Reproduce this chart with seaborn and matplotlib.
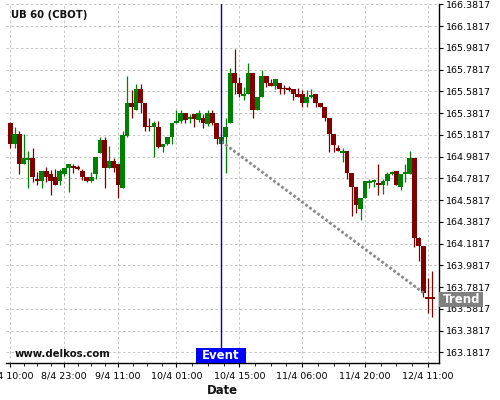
import numpy as np
import pandas as pd
import matplotlib
matplotlib.use("Agg")
import matplotlib.pyplot as plt
import matplotlib.transforms as mtransforms
from matplotlib.patches import Rectangle
from matplotlib.ticker import FixedLocator
import seaborn as sns

sns.set_theme(style="white")
plt.rcParams['font.family'] = ['DejaVu Sans']

# ---------------- data ----------------
opens = [165.29, 165.10, 165.19, 164.91, 164.95, 164.97, 164.77, 164.76, 164.85, 164.82,
         164.79, 164.76, 164.82, 164.88, 164.885, 164.88, 164.85, 164.79, 164.76, 164.82,
         165.01, 165.13, 164.88, 164.94, 164.91, 164.69, 165.17, 165.47, 165.41, 165.60,
         165.47, 165.26, 165.25, 165.25, 165.07, 165.10, 165.16, 165.29, 165.31, 165.38,
         165.33, 165.37, 165.32, 165.34, 165.28, 165.38, 165.29, 165.10, 165.16, 165.29,
         165.75, 165.66, 165.54, 165.56, 165.75, 165.41, 165.53, 165.72, 165.66, 165.63,
         165.66, 165.61, 165.605, 165.60, 165.56, 165.56, 165.47, 165.53, 165.56, 165.47,
         165.44, 165.34, 165.19, 165.06, 165.01, 165.03, 164.83, 164.70, 164.50, 164.60,
         164.74, 164.75, 164.73, 164.72, 164.76, 164.82, 164.85, 164.70, 164.82, 164.82,
         164.97, 164.23, 164.16, 163.69, 163.69]
closes = [165.10, 165.19, 164.91, 164.97, 164.97, 164.79, 164.76, 164.85, 164.79, 164.76,
          164.72, 164.85, 164.88, 164.91, 164.875, 164.87, 164.79, 164.76, 164.79, 164.98,
          165.13, 164.88, 164.94, 164.88, 164.72, 165.18, 165.47, 165.44, 165.60, 165.47,
          165.25, 165.25, 165.29, 165.07, 165.10, 165.16, 165.29, 165.31, 165.38, 165.32,
          165.34, 165.33, 165.38, 165.29, 165.38, 165.29, 165.14, 165.16, 165.25, 165.75,
          165.66, 165.56, 165.56, 165.75, 165.41, 165.53, 165.72, 165.66, 165.63, 165.69,
          165.60, 165.60, 165.595, 165.56, 165.53, 165.47, 165.53, 165.54, 165.47, 165.44,
          165.34, 165.19, 165.09, 165.03, 165.03, 164.83, 164.70, 164.54, 164.60, 164.76,
          164.76, 164.76, 164.72, 164.76, 164.82, 164.83, 164.72, 164.82, 164.83, 164.97,
          164.23, 164.16, 163.73, 163.67, 163.67]
highs = [165.30, 165.25, 165.22, 165.19, 165.03, 165.06, 164.84, 164.85, 164.89, 164.86,
         164.87, 164.87, 164.88, 164.91, 164.91, 164.90, 164.87, 164.79, 164.84, 164.98,
         165.16, 165.16, 165.08, 164.97, 164.91, 165.22, 165.72, 165.59, 165.65, 165.65,
         165.47, 165.34, 165.31, 165.31, 165.10, 165.16, 165.29, 165.41, 165.41, 165.38,
         165.37, 165.37, 165.41, 165.37, 165.41, 165.41, 165.29, 165.16, 165.34, 165.80,
         165.97, 165.71, 165.62, 165.84, 165.75, 165.53, 165.78, 165.72, 165.69, 165.69,
         165.66, 165.64, 165.63, 165.60, 165.61, 165.59, 165.59, 165.60, 165.56, 165.47,
         165.44, 165.34, 165.19, 165.09, 165.06, 165.03, 164.83, 164.70, 164.60, 164.76,
         164.78, 164.78, 164.91, 164.78, 164.84, 164.85, 164.85, 164.82, 164.91, 165.03,
         164.97, 164.24, 164.16, 163.87, 163.93]
lows = [165.06, 165.06, 164.82, 164.91, 164.69, 164.75, 164.72, 164.69, 164.75, 164.63,
        164.72, 164.72, 164.80, 164.66, 164.83, 164.86, 164.77, 164.75, 164.75, 164.78,
        165.01, 164.69, 164.88, 164.84, 164.60, 164.69, 165.16, 165.34, 165.41, 165.38,
        165.22, 165.22, 164.98, 165.06, 165.02, 165.09, 165.10, 165.29, 165.29, 165.29,
        165.29, 165.25, 165.30, 165.24, 165.26, 165.27, 165.10, 165.10, 164.83, 165.29,
        165.56, 165.53, 165.50, 165.56, 165.34, 165.41, 165.53, 165.62, 165.63, 165.60,
        165.56, 165.56, 165.58, 165.50, 165.53, 165.44, 165.44, 165.52, 165.44, 165.44,
        165.31, 165.02, 165.02, 165.03, 164.93, 164.78, 164.44, 164.46, 164.40, 164.60,
        164.69, 164.70, 164.63, 164.64, 164.72, 164.81, 164.72, 164.67, 164.75, 164.82,
        164.15, 164.02, 163.69, 163.54, 163.51]

x_tick_pos = [0, 12, 24, 37, 51, 65, 79, 93]
x_tick_labels = ["8/4 10:00", "8/4 23:00", "9/4 11:00", "10/4 01:00",
                 "10/4 15:00", "11/4 06:00", "11/4 20:00", "12/4 11:00"]
y_ticks = [163.1817, 163.3817, 163.5817, 163.7817, 163.9817, 164.1817,
           164.3817, 164.5817, 164.7817, 164.9817, 165.1817, 165.3817,
           165.5817, 165.7817, 165.9817, 166.1817, 166.3817]

event_index = 47
trend_x = [47, 92]
trend_y = [165.12, 163.73]
last_price = 163.67

title_text = "UB 60 (CBOT)"
site_text = "www.delkos.com"

# ---------------- figure ----------------
df = pd.DataFrame({"idx": np.arange(len(opens)), "open": opens, "close": closes,
                   "high": highs, "low": lows})
df["up"] = df["close"] >= df["open"]
df["color"] = np.where(df["up"], "#008000", "#800000")
df["bottom"] = df[["open", "close"]].min(axis=1)
df["height"] = (df["close"] - df["open"]).abs().clip(lower=0.016)

fig = plt.figure(figsize=(5, 4), dpi=100)
ax = fig.add_axes([0.012, 0.0913, 0.8666, 0.899])

ax.set_xlim(-0.96, 95.55)
ax.set_ylim(163.08, 166.385)

# grid
ax.set_axisbelow(True)
ax.grid(True, which="major", color="#c4c4c4", linestyle=(0, (2.5, 2.5)), lw=0.7)

# candles
ax.vlines(df["idx"], df["low"], df["high"], colors=df["color"], lw=0.9, zorder=3)
ax.bar(df["idx"], df["height"], bottom=df["bottom"], width=1.08,
       color=df["color"], linewidth=0, zorder=3)

# trend line
sns.lineplot(x=trend_x, y=trend_y, ax=ax, color="#8a8a8a", lw=2.0,
             linestyle=(0, (1.0, 0.8)), zorder=4)

# event line
ax.axvline(event_index, color="#0000cc", lw=1.0, zorder=5)

# axes styling
for s in ["left", "top"]:
    ax.spines[s].set_visible(False)
for s in ["right", "bottom"]:
    ax.spines[s].set_visible(True)
    ax.spines[s].set_color("black")
    ax.spines[s].set_linewidth(1.0)

ax.yaxis.tick_right()
ax.set_yticks(y_ticks)
ax.set_yticklabels([f"{v:.4f}" for v in y_ticks])
ax.tick_params(axis="y", which="major", direction="out", length=3, width=0.8,
               pad=1.5, labelsize=6.8, colors="black", right=True, left=False)

ax.set_xticks(x_tick_pos)
ax.set_xticklabels(x_tick_labels)
minor = []
for a, b in zip(x_tick_pos[:-1], x_tick_pos[1:]):
    minor += [a + (b - a) * k / 4 for k in (1, 2, 3)]
ax.xaxis.set_minor_locator(FixedLocator(minor))
ax.tick_params(axis="x", which="major", direction="out", length=3, width=0.8,
               pad=2.5, labelsize=6.8, colors="black", bottom=True)
ax.tick_params(axis="x", which="minor", direction="out", length=2, width=0.6,
               colors="black", bottom=True)
ax.set_xlabel("")
ax.set_ylabel("")

# texts
fig.text(10.7 / 500, 1 - 15 / 400, title_text, fontsize=7.3, fontweight="bold",
         ha="left", va="center", color="#111111")
fig.text(15 / 500, 1 - 354 / 400, site_text, fontsize=7.3, fontweight="bold",
         ha="left", va="center", color="#111111")
fig.text(222 / 500, 1 - 390 / 400, "Date", fontsize=8.4, fontweight="bold",
         ha="center", va="center", color="#111111")

# Event label
tr_ev = mtransforms.blended_transform_factory(ax.transData, ax.transAxes)
ax.add_patch(Rectangle((event_index - 5.65, 0.0), 11.1, 0.044, transform=tr_ev,
                       facecolor="#0000ff", edgecolor="none", zorder=6, clip_on=False))
ax.text(event_index - 0.1, 0.021, "Event", transform=tr_ev, color="white",
        fontsize=8.5, fontweight="bold", ha="center", va="center", zorder=7)

# Trend label
tr_tl = mtransforms.blended_transform_factory(ax.transAxes, ax.transData)
ax.add_patch(Rectangle((1.0, last_price - 0.068), 0.1016, 0.138, transform=tr_tl,
                       facecolor="#808080", edgecolor="none", zorder=6, clip_on=False))
ax.text(1.0085, last_price, "Trend", transform=tr_tl, color="white",
        fontsize=8.5, fontweight="bold", ha="left", va="center", zorder=7,
        clip_on=False)

fig.savefig("out.png", dpi=100)
